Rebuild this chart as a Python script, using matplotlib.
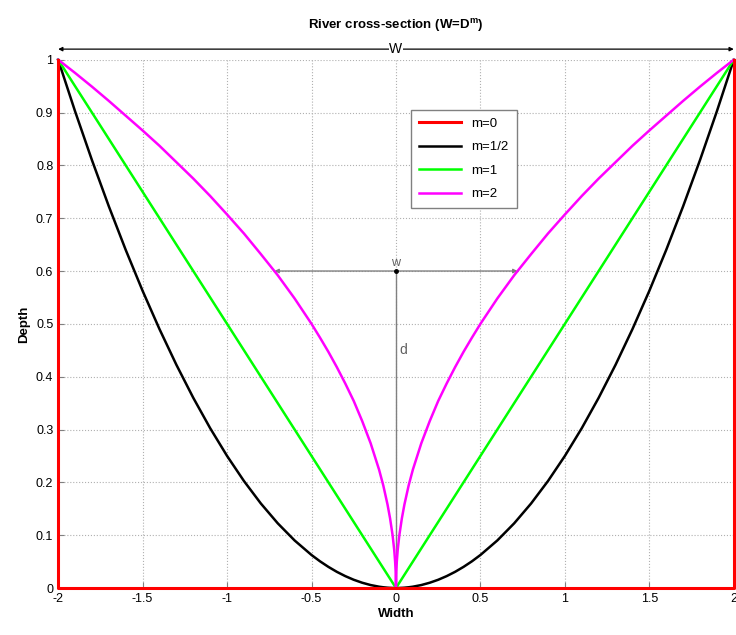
import numpy as np
import matplotlib
matplotlib.use('Agg')
import matplotlib.pyplot as plt

plt.rcParams['font.family'] = ['Liberation Sans', 'DejaVu Sans']

# half-width (0..2) and depth, curves are symmetric
half_width = [0, 0.002, 0.005, 0.01, 0.02, 0.035, 0.05, 0.075, 0.1, 0.15, 0.2, 0.25,
              0.3, 0.35, 0.4, 0.45, 0.5, 0.6, 0.7, 0.8, 0.9, 1.0, 1.1, 1.2, 1.3, 1.4,
              1.5, 1.6, 1.7, 1.8, 1.9, 2.0]
depth_half = [0, 0, 0, 0, 0.0001, 0.0003, 0.0006, 0.0014, 0.0025, 0.0056, 0.01, 0.0156,
              0.0225, 0.0306, 0.04, 0.0506, 0.0625, 0.09, 0.1225, 0.16, 0.2025, 0.25,
              0.3025, 0.36, 0.4225, 0.49, 0.5625, 0.64, 0.7225, 0.81, 0.9025, 1.0]
depth_one = [0, 0.001, 0.0025, 0.005, 0.01, 0.0175, 0.025, 0.0375, 0.05, 0.075, 0.1,
             0.125, 0.15, 0.175, 0.2, 0.225, 0.25, 0.3, 0.35, 0.4, 0.45, 0.5, 0.55, 0.6,
             0.65, 0.7, 0.75, 0.8, 0.85, 0.9, 0.95, 1.0]
depth_two = [0, 0.032, 0.05, 0.071, 0.1, 0.132, 0.158, 0.194, 0.224, 0.274, 0.316, 0.354,
             0.387, 0.418, 0.447, 0.474, 0.5, 0.548, 0.592, 0.632, 0.671, 0.707, 0.742,
             0.775, 0.806, 0.837, 0.866, 0.894, 0.922, 0.949, 0.975, 1.0]
# m=0 : rectangular channel
box_x = [-2, -2, 2, 2]
box_y = [1, 0, 0, 1]

labels = ['m=0', 'm=1/2', 'm=1', 'm=2']
colors = ['#ff0000', '#000000', '#00ff00', '#ff00ff']

w_small = 0.72
d_small = 0.6

def mirror(hw, d):
    hw = np.array(hw)
    d = np.array(d)
    return np.concatenate([-hw[::-1], hw[1:]]), np.concatenate([d[::-1], d[1:]])

fig = plt.figure(figsize=(7.36, 6.35), dpi=100)
ax = fig.add_axes([0.079, 0.074, 0.918, 0.832])

ax.plot(box_x, box_y, color=colors[0], lw=2.2, label=labels[0], clip_on=False, zorder=5)
for d, c, lab in zip([depth_half, depth_one, depth_two], colors[1:], labels[1:]):
    xx, yy = mirror(half_width, d)
    ax.plot(xx, yy, color=c, lw=1.8, label=lab, clip_on=False, zorder=4)

ax.set_xlim(-2, 2)
ax.set_ylim(0, 1)
ax.set_xticks(np.arange(-2, 2.01, 0.5))
ax.set_xticklabels(['-2', '-1.5', '-1', '-0.5', '0', '0.5', '1', '1.5', '2'])
ax.set_yticks(np.arange(0, 1.01, 0.1))
ax.set_yticklabels(['0', '0.1', '0.2', '0.3', '0.4', '0.5', '0.6', '0.7', '0.8', '0.9', '1'])
ax.tick_params(direction='in', length=4, labelsize=9, color='#808080')
ax.grid(True, linestyle=':', color='#b0b0b0', lw=0.8)
ax.spines['top'].set_visible(False)
for s in ['left', 'right', 'bottom']:
    ax.spines[s].set_color('#808080')

ax.set_xlabel('Width', fontsize=9.5, fontweight='bold', labelpad=2)
ax.set_ylabel('Depth', fontsize=9.5, fontweight='bold', labelpad=4)
ax.set_title('River cross-section (W=D$^{\\mathregular{m}}$)', fontsize=9.5,
             fontweight='bold', pad=22)

# annotations
ax.annotate('', xy=(-2, 1.02), xytext=(2, 1.02), annotation_clip=False,
            arrowprops=dict(arrowstyle='<|-|>', color='black', lw=0.9,
                            mutation_scale=6, shrinkA=0, shrinkB=0))
ax.text(0, 1.02, 'W', ha='center', va='center', fontsize=10, clip_on=False,
        bbox=dict(facecolor='white', edgecolor='none', pad=0.5))
ax.annotate('', xy=(-w_small, d_small), xytext=(w_small, d_small),
            arrowprops=dict(arrowstyle='<|-|>', color='#808080', lw=1.0,
                            mutation_scale=6, shrinkA=0, shrinkB=0))
ax.plot([0, 0], [0, d_small], color='#808080', lw=1.0, zorder=3)
ax.plot([0], [d_small], marker='o', ms=2.5, color='black', zorder=3)
ax.text(0, d_small + 0.003, 'w', ha='center', va='bottom', fontsize=9, color='#606060')
ax.text(0.02, 0.45, 'd', ha='left', va='center', fontsize=10, color='#606060')
ax.text(2.04, 0.5, 'D', ha='left', va='center', fontsize=9, clip_on=False)

leg = ax.legend(loc='upper left', bbox_to_anchor=(0.522, 0.905), fontsize=9.5,
                fancybox=False, edgecolor='#808080', framealpha=1, borderaxespad=0,
                handlelength=3.2, borderpad=0.6, labelspacing=0.85)
leg.get_frame().set_linewidth(1.0)

plt.savefig('out.png', dpi=100)
